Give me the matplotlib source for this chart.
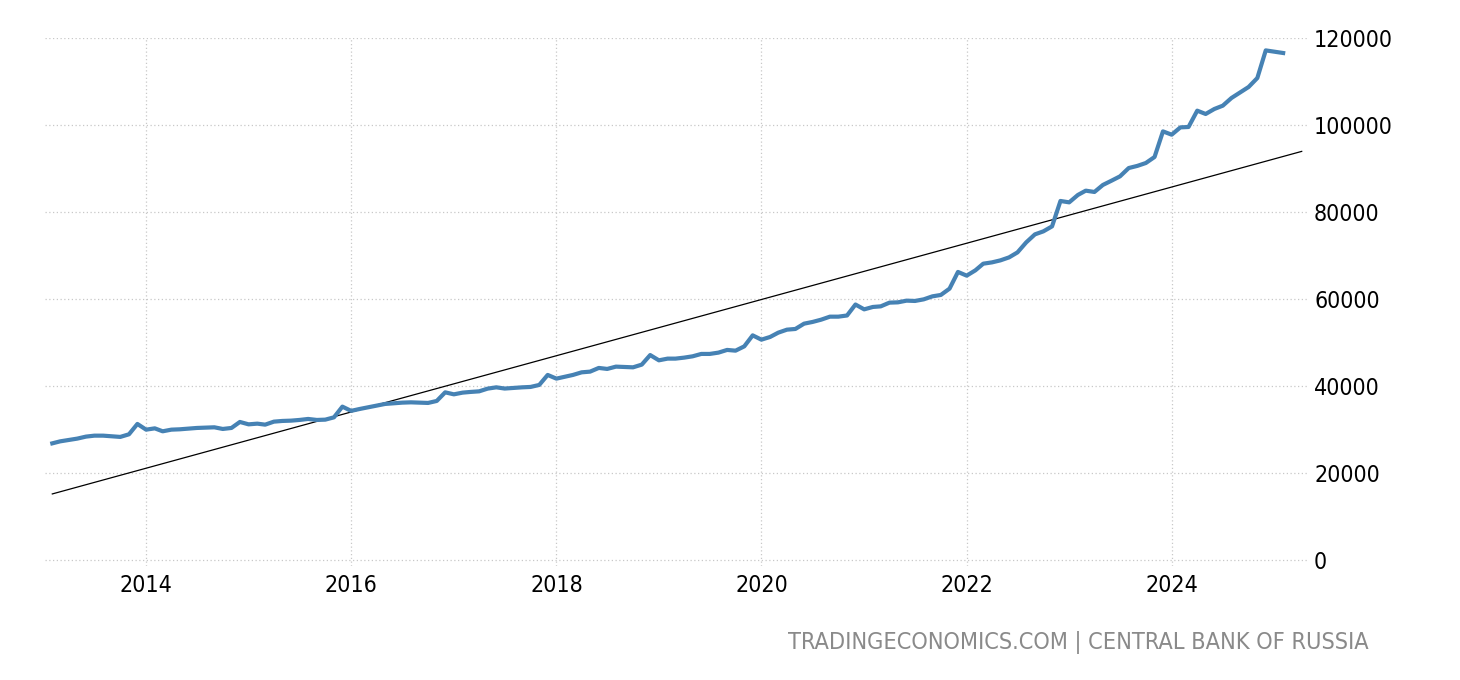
import matplotlib
matplotlib.use("Agg")
import matplotlib.pyplot as plt
import pandas as pd
import datetime as dt

start_month = "2013-02-01"
values = [
    26800, 27260, 27590, 27890, 28350, 28570, 28570, 28420, 28280, 28880, 31260,
    29950, 30250, 29570, 29950, 30030, 30180, 30340, 30410, 30490, 30110, 30340, 31720,
    31170, 31330, 31100, 31790, 31950, 32020, 32180, 32410, 32180, 32250, 32780, 35240,
    34270, 34710, 35080, 35470, 35860, 36000, 36160, 36230, 36160, 36090, 36550, 38530,
    38070, 38460, 38620, 38760, 39380, 39680, 39400, 39540, 39680, 39770, 40230, 42530,
    41680, 42140, 42530, 43130, 43290, 44140, 43910, 44440, 44370, 44280, 44900, 47100,
    45890, 46280, 46280, 46510, 46810, 47360, 47360, 47660, 48280, 48110, 49100, 51630,
    50640, 51260, 52250, 52940, 53100, 54320, 54710, 55240, 55930, 55930, 56200, 58720,
    57610, 58160, 58300, 59150, 59220, 59610, 59540, 59910, 60600, 60920, 62370, 66210,
    65360, 66580, 68110, 68410, 68870, 69560, 70710, 73010, 74850, 75540, 76690, 82530,
    82210, 83910, 84900, 84600, 86210, 87200, 88190, 90100, 90600, 91260, 92640, 98530,
    97770, 99450, 99540, 103290, 102530, 103680, 104440, 106210, 107500, 108740, 110800, 117150,
    116850, 116550,
]
trend_dates = ["2013-02-01", "2025-04-08"]
trend_values = [15170, 93930]
year_ticks = [2014, 2016, 2018, 2020, 2022, 2024]
y_ticks = [0, 20000, 40000, 60000, 80000, 100000, 120000]
source_text = "TRADINGECONOMICS.COM | CENTRAL BANK OF RUSSIA"

dates = pd.date_range(start_month, periods=len(values), freq="MS")

FONT = dict(family="DejaVu Sans", stretch="condensed")

fig = plt.figure(figsize=(14.6, 6.8), dpi=100)
ax = fig.add_axes([45 / 1460, 114 / 680, (1309 - 45) / 1460, (566 - 38) / 680])

ax.plot(dates, values, color="#4682b4", lw=3.0, solid_joinstyle="round", zorder=3)
ax.plot(pd.to_datetime(trend_dates), trend_values, color="black", lw=0.9, zorder=2)

ax.set_xlim(dt.datetime(2013, 1, 6), dt.datetime(2025, 5, 4))
ax.set_ylim(-1400, 120000)

ax.set_xticks([dt.datetime(y, 1, 1) for y in year_ticks])
ax.set_xticklabels([str(y) for y in year_ticks], fontsize=16.6, color="black", **FONT)
ax.set_yticks(y_ticks)
ax.yaxis.tick_right()
ax.set_yticklabels([str(v) for v in y_ticks], fontsize=16.6, color="black", ha="left", **FONT)
ax.tick_params(axis="y", length=0, pad=3.6)
ax.tick_params(axis="x", length=0, pad=6)

ax.grid(True, color="#c8c8c8", linestyle=(0, (1, 2)), lw=0.9)
for s in ax.spines.values():
    s.set_visible(False)

fig.text(1369 / 1460, (680 - 642) / 680, source_text, ha="right", va="center",
         fontsize=16.8, color="#8a8a8a", **FONT)

fig.savefig("out.png", dpi=100, facecolor="white")
